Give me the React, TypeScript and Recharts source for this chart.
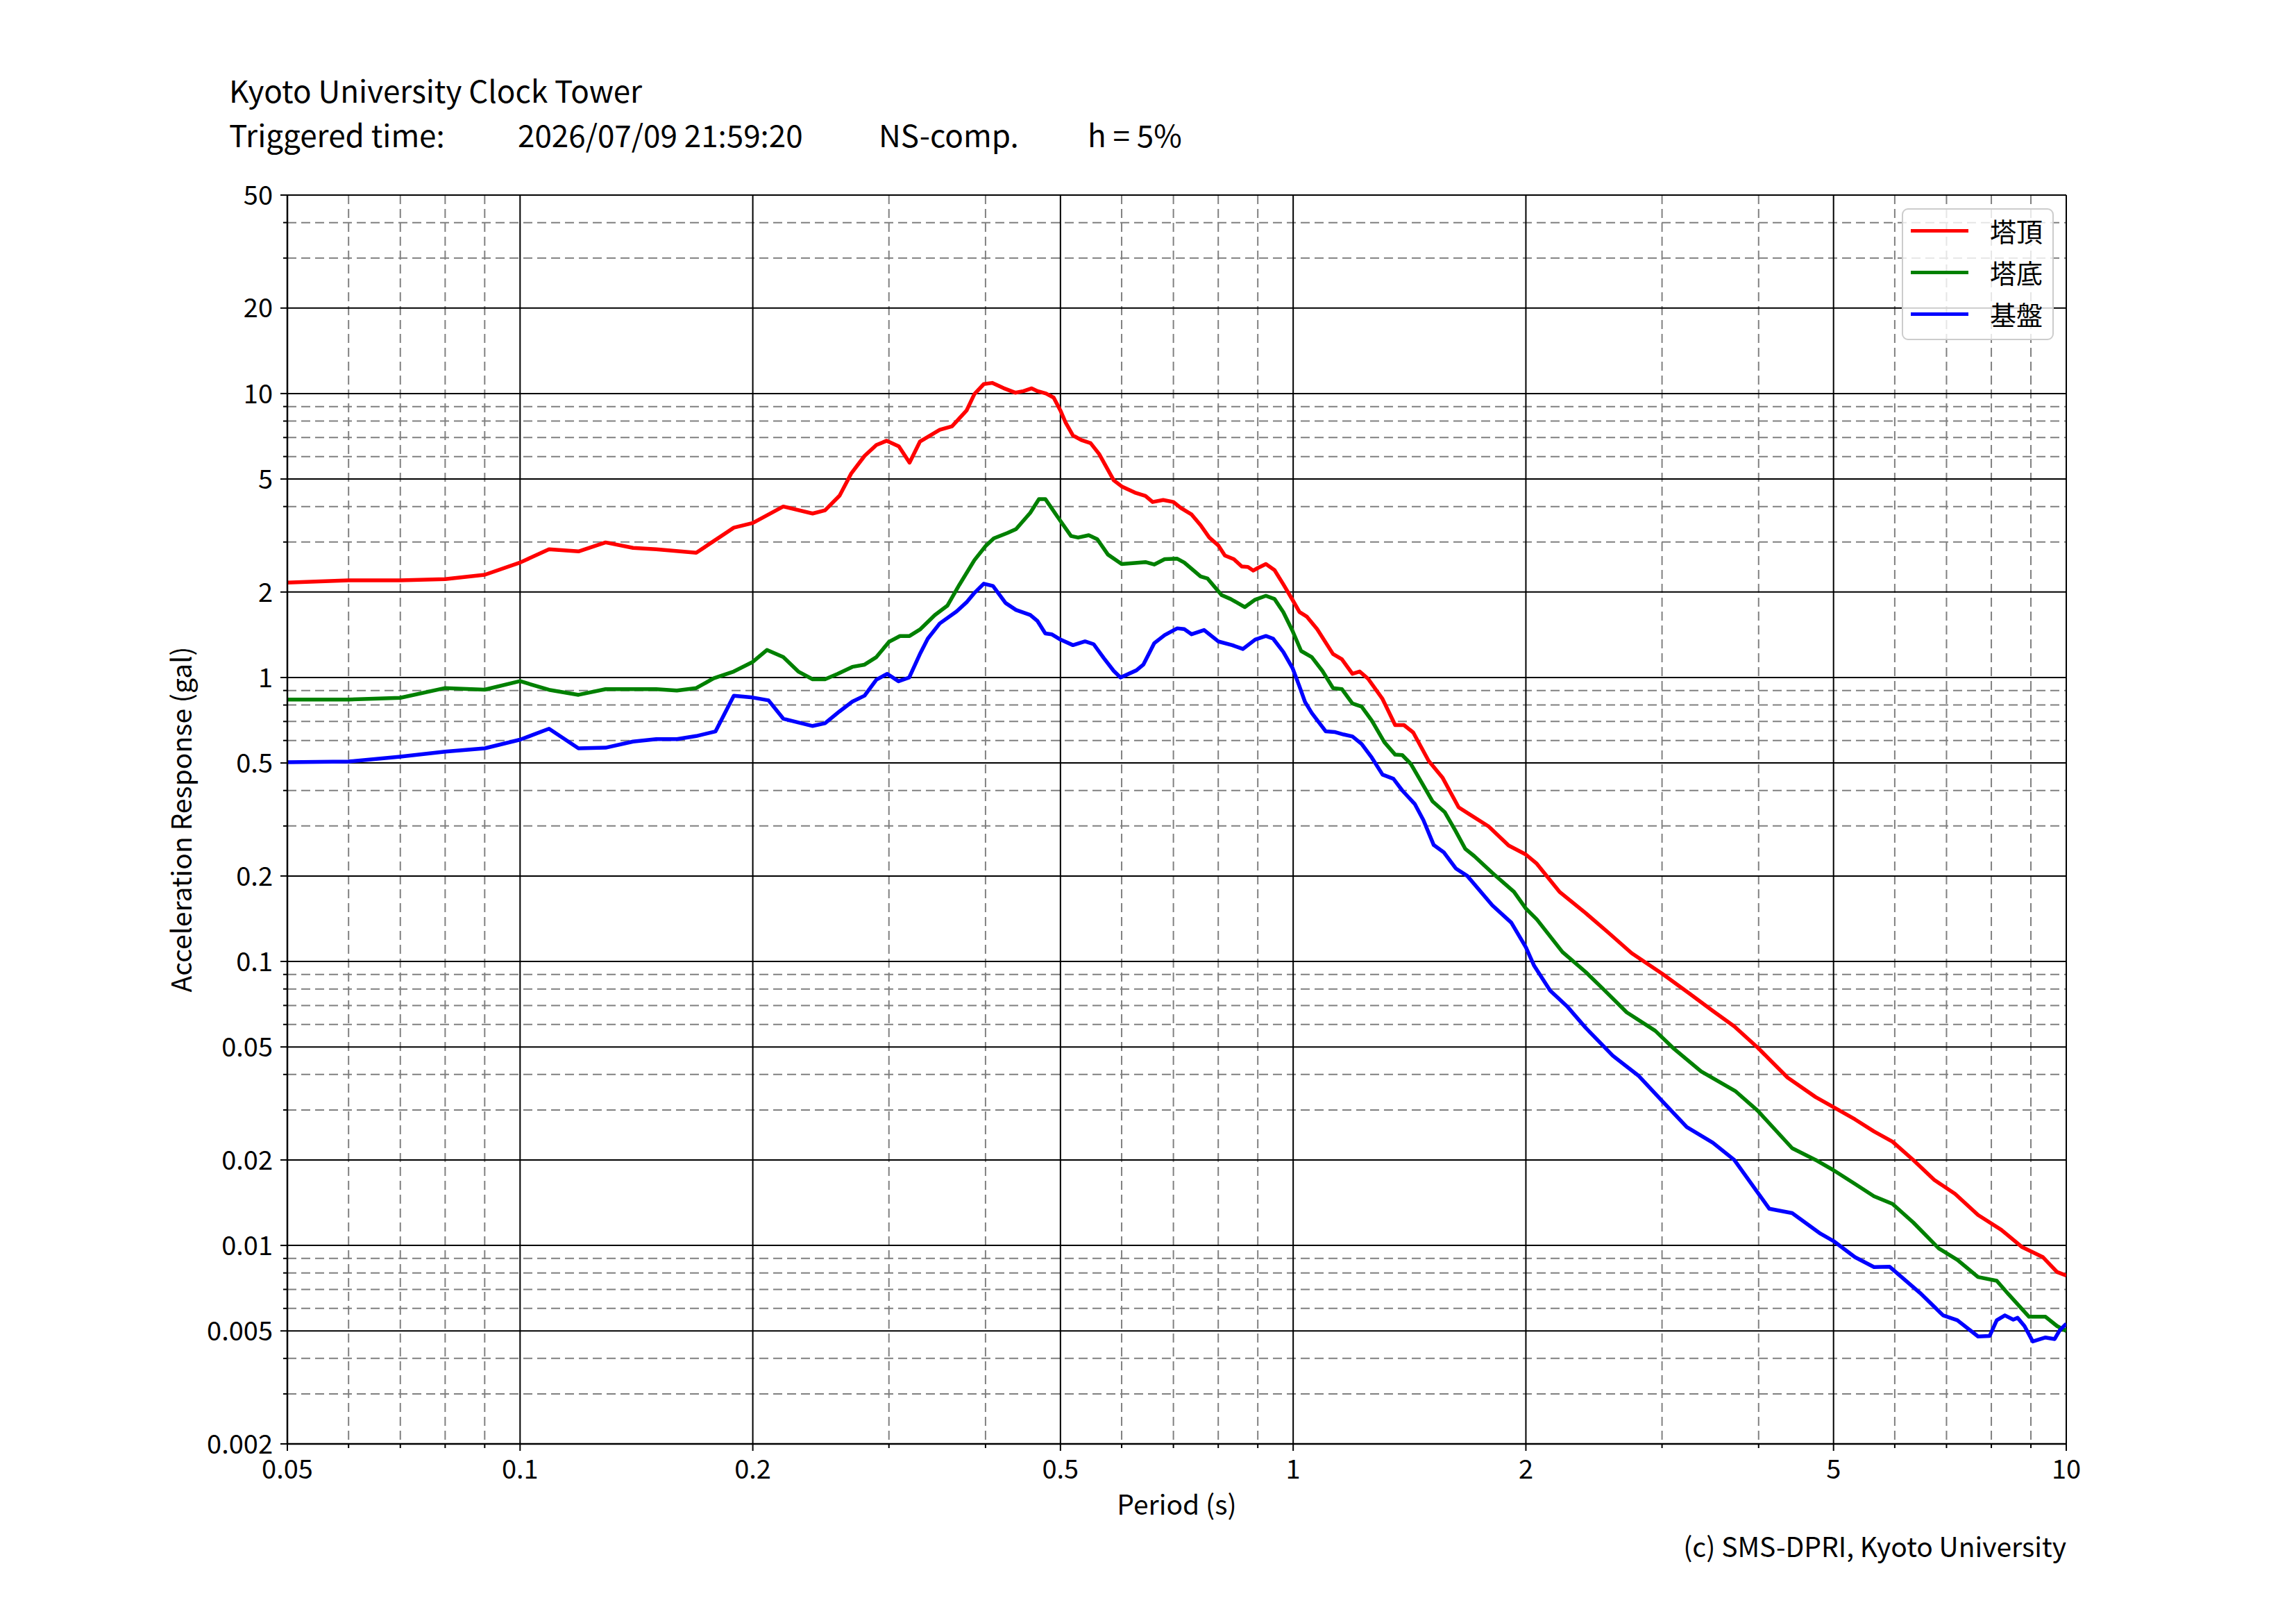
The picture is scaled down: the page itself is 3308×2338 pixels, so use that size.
import { LineChart, Line, XAxis, YAxis, CartesianGrid, Legend, Label } from "recharts";

const W = 3308;
const H = 2338;
const FONT = '"Noto Sans CJK JP", "Noto Sans", sans-serif';

// axis ticks
const xMajor = [0.05, 0.1, 0.2, 0.5, 1, 2, 5, 10];
const xMinor = [0.06, 0.07, 0.08, 0.09, 0.3, 0.4, 0.6, 0.7, 0.8, 0.9, 3, 4, 6, 7, 8, 9];
const yMajor = [0.002, 0.005, 0.01, 0.02, 0.05, 0.1, 0.2, 0.5, 1, 2, 5, 10, 20, 50];
const yMinor = [
  0.003, 0.004, 0.006, 0.007, 0.008, 0.009, 0.03, 0.04, 0.06, 0.07, 0.08, 0.09,
  0.3, 0.4, 0.6, 0.7, 0.8, 0.9, 3, 4, 6, 7, 8, 9, 30, 40,
];

// 塔頂 (tower top)
const topPeriods = [
  0.05, 0.06, 0.07, 0.08, 0.09, 0.1, 0.109, 0.119, 0.129, 0.14, 0.15, 0.169, 0.189, 0.2,
  0.219, 0.239, 0.248, 0.259, 0.268, 0.279, 0.289, 0.298, 0.309, 0.319, 0.329, 0.349,
  0.362, 0.378, 0.387, 0.398, 0.408, 0.422, 0.437, 0.448, 0.459, 0.467, 0.479, 0.49, 0.5,
  0.508, 0.519, 0.532, 0.547, 0.561, 0.586, 0.6, 0.624, 0.644, 0.658, 0.679, 0.7, 0.716,
  0.739, 0.759, 0.779, 0.8, 0.816, 0.838, 0.858, 0.874, 0.888, 0.9, 0.922, 0.946, 0.971,
  1.0, 1.019, 1.041, 1.074, 1.126, 1.156, 1.193, 1.219, 1.25, 1.305, 1.355, 1.391, 1.43,
  1.497, 1.561, 1.637, 1.69, 1.79, 1.9, 2.0, 2.066, 2.21, 2.39, 2.56, 2.74, 3.0, 3.26,
  3.49, 3.72, 3.99, 4.36, 4.74, 5.0, 5.33, 5.64, 5.96, 6.34, 6.75, 7.18, 7.69, 8.24, 8.77,
  9.33, 9.73, 10,
];
const topValues = [
  2.16, 2.2, 2.2, 2.22, 2.3, 2.54, 2.83, 2.78, 2.99, 2.86, 2.83, 2.75, 3.37, 3.5,
  4.0, 3.78, 3.88, 4.37, 5.22, 6.03, 6.59, 6.82, 6.52, 5.71, 6.77, 7.45,
  7.67, 8.71, 9.96, 10.8, 10.9, 10.45, 10.07, 10.2, 10.43, 10.2, 10.0, 9.68, 8.71,
  7.88, 7.12, 6.86, 6.69, 6.13, 4.95, 4.71, 4.48, 4.36, 4.15, 4.22, 4.15, 3.95,
  3.75, 3.44, 3.11, 2.92, 2.69, 2.61, 2.46, 2.45, 2.38, 2.43, 2.51, 2.39, 2.13,
  1.86, 1.7, 1.64, 1.48, 1.21, 1.16, 1.03, 1.05, 0.99, 0.84, 0.68, 0.68, 0.64,
  0.509, 0.443, 0.349, 0.33, 0.299, 0.256, 0.238, 0.221, 0.176, 0.148, 0.126, 0.107, 0.0906, 0.0769,
  0.067, 0.0591, 0.0497, 0.039, 0.0333, 0.0307, 0.0278, 0.0252, 0.0232, 0.02, 0.017, 0.0152, 0.0128, 0.01135, 0.00986,
  0.00909, 0.00806, 0.00783,
];

// 塔底 (tower base)
const basePeriods = [
  0.05, 0.06, 0.07, 0.08, 0.09, 0.1, 0.109, 0.119, 0.129, 0.15, 0.1595, 0.169, 0.178, 0.189,
  0.2, 0.2086, 0.219, 0.229, 0.239, 0.248, 0.2575, 0.269, 0.279, 0.289, 0.3, 0.31, 0.319,
  0.3295, 0.344, 0.357, 0.37, 0.387, 0.4, 0.41, 0.427, 0.438, 0.457, 0.469, 0.478, 0.495,
  0.516, 0.527, 0.544, 0.558, 0.576, 0.6, 0.624, 0.644, 0.661, 0.682, 0.708, 0.723, 0.759,
  0.775, 0.808, 0.83, 0.866, 0.893, 0.922, 0.946, 0.971, 0.998, 1.024, 1.057, 1.091, 1.126,
  1.156, 1.193, 1.226, 1.264, 1.312, 1.355, 1.384, 1.42, 1.466, 1.515, 1.57, 1.62, 1.67,
  1.715, 1.81, 1.93, 2.0, 2.066, 2.23, 2.39, 2.52, 2.7, 2.94, 3.1, 3.37, 3.73, 3.99, 4.42,
  4.74, 5.0, 5.33, 5.64, 5.96, 6.34, 6.84, 7.23, 7.69, 8.13, 8.42, 8.95, 9.4, 9.73, 10,
];
const baseValues = [
  0.836, 0.836, 0.848, 0.918, 0.906, 0.971, 0.905, 0.869, 0.91, 0.91, 0.9, 0.918, 0.993, 1.05,
  1.135, 1.25, 1.18, 1.05, 0.986, 0.986, 1.03, 1.09, 1.11, 1.18, 1.335, 1.4, 1.4,
  1.48, 1.66, 1.79, 2.12, 2.59, 2.9, 3.09, 3.23, 3.33, 3.8, 4.25, 4.25, 3.7,
  3.15, 3.11, 3.17, 3.07, 2.71, 2.51, 2.53, 2.55, 2.5, 2.61, 2.62, 2.54, 2.27,
  2.23, 1.95, 1.89, 1.77, 1.88, 1.94, 1.89, 1.7, 1.46, 1.24, 1.18, 1.055, 0.918,
  0.91, 0.81, 0.79, 0.705, 0.592, 0.535, 0.533, 0.496, 0.427, 0.366, 0.336, 0.29, 0.249,
  0.235, 0.205, 0.176, 0.1536, 0.1407, 0.108, 0.0918, 0.0798, 0.0662, 0.057, 0.0496, 0.041, 0.035, 0.0298, 0.022,
  0.02, 0.0184, 0.01646, 0.0149, 0.014, 0.01205, 0.00976, 0.0089, 0.00774, 0.00751, 0.00673, 0.00561, 0.00561, 0.0052, 0.005,
];

// 基盤 (bedrock)
const rockPeriods = [
  0.05, 0.06, 0.07, 0.08, 0.09, 0.1, 0.109, 0.119, 0.129, 0.14, 0.15, 0.1595, 0.169, 0.179,
  0.189, 0.2, 0.2096, 0.219, 0.239, 0.248, 0.259, 0.269, 0.279, 0.289, 0.2985, 0.3087,
  0.3187, 0.3295, 0.3368, 0.349, 0.367, 0.378, 0.3866, 0.398, 0.409, 0.4246, 0.438, 0.457,
  0.467, 0.478, 0.487, 0.5, 0.519, 0.538, 0.552, 0.569, 0.586, 0.598, 0.627, 0.64, 0.661,
  0.682, 0.708, 0.723, 0.739, 0.767, 0.8, 0.834, 0.861, 0.893, 0.922, 0.942, 0.971, 0.998,
  1.019, 1.036, 1.057, 1.102, 1.131, 1.162, 1.193, 1.226, 1.264, 1.305, 1.348, 1.384,
  1.437, 1.474, 1.52, 1.567, 1.623, 1.68, 1.81, 1.915, 2.0, 2.05, 2.15, 2.26, 2.39, 2.59,
  2.8, 3.0, 3.23, 3.49, 3.72, 3.99, 4.13, 4.42, 4.81, 5.0, 5.33, 5.64, 5.91, 6.47, 6.93,
  7.23, 7.69, 7.96, 8.13, 8.33, 8.54, 8.65, 8.83, 9.05, 9.4, 9.66, 9.81, 10,
];
const rockValues = [
  0.503, 0.506, 0.526, 0.548, 0.563, 0.604, 0.66, 0.563, 0.566, 0.595, 0.607, 0.607, 0.622, 0.646,
  0.863, 0.85, 0.831, 0.716, 0.675, 0.69, 0.76, 0.822, 0.863, 0.982, 1.03, 0.97,
  1.0, 1.22, 1.37, 1.55, 1.71, 1.84, 1.98, 2.14, 2.1, 1.83, 1.73, 1.66,
  1.58, 1.43, 1.42, 1.36, 1.3, 1.34, 1.31, 1.17, 1.055, 1.0, 1.06, 1.11, 1.32,
  1.41, 1.49, 1.48, 1.42, 1.47, 1.34, 1.3, 1.26, 1.36, 1.4, 1.37, 1.23, 1.08,
  0.93, 0.82, 0.75, 0.646, 0.643, 0.63, 0.62, 0.584, 0.522, 0.455, 0.44, 0.4,
  0.358, 0.3145, 0.257, 0.242, 0.2127, 0.2, 0.1575, 0.137, 0.1122, 0.0965, 0.079, 0.0696, 0.0584, 0.0466,
  0.0395, 0.0323, 0.0261, 0.023, 0.02, 0.01534, 0.01346, 0.013, 0.011, 0.01036, 0.00909, 0.00839, 0.00841, 0.0068, 0.00567,
  0.00545, 0.00478, 0.0048, 0.00545, 0.00567, 0.00548, 0.00556, 0.0052, 0.00459, 0.00474, 0.00468, 0.00503, 0.0053,
];

const seriesNames = ["塔頂", "塔底", "基盤"];
const seriesColors = ["#ff0000", "#008000", "#0000ff"];

const toRows = (t: number[], a: number[]) => t.map((p, i) => ({ t: p, a: a[i] }));
const series = [
  toRows(topPeriods, topValues),
  toRows(basePeriods, baseValues),
  toRows(rockPeriods, rockValues),
];

const XTick = ({ x, y, payload }: any) => {
  const major = xMajor.includes(payload.value);
  return (
    <g>
      <line x1={x} x2={x} y1={y} y2={y + (major ? 10 : 6)} stroke="#000" strokeWidth={2} />
      {major && (
        <text x={x} y={y + 23} dy="0.71em" textAnchor="middle" fontSize={38} fontFamily={FONT} fill="#000">
          {String(payload.value)}
        </text>
      )}
    </g>
  );
};

const YTick = ({ x, y, payload }: any) => {
  const major = yMajor.includes(payload.value);
  return (
    <g>
      <line x1={x} x2={x - (major ? 10 : 6)} y1={y} y2={y} stroke="#000" strokeWidth={2} />
      {major && (
        <text x={x - 21} y={y} dy="0.36em" textAnchor="end" fontSize={38} fontFamily={FONT} fill="#000">
          {String(payload.value)}
        </text>
      )}
    </g>
  );
};

const renderLegend = ({ payload }: any) => {
  const items = [...(payload || [])].sort(
    (a: any, b: any) => seriesNames.indexOf(a.value) - seriesNames.indexOf(b.value)
  );
  return (
    <div
      style={{
        width: 219,
        height: 190,
        boxSizing: "border-box",
        border: "2px solid #cccccc",
        borderRadius: 9,
        background: "rgba(255,255,255,0.8)",
        paddingLeft: 11,
      }}
    >
      {items.map((p: any) => (
        <div key={p.value} style={{ display: "flex", alignItems: "center", height: 60 }}>
          <span style={{ display: "inline-block", width: 83, height: 5, background: p.color }} />
          <span style={{ marginLeft: 31, fontSize: 38, fontFamily: FONT, color: "#000", lineHeight: 1 }}>
            {p.value}
          </span>
        </div>
      ))}
    </div>
  );
};

export default function App() {
  return (
    <div style={{ position: "absolute", left: 0, top: 0, width: W, height: H, background: "#fff" }}>
      <LineChart width={W} height={H} margin={{ top: 281, right: 331, bottom: 178, left: 294 }}>
        <CartesianGrid
          horizontalValues={yMinor}
          verticalValues={xMinor}
          stroke="#808080"
          strokeWidth={2}
          strokeDasharray="13 7"
        />
        <CartesianGrid horizontalValues={yMajor} verticalValues={xMajor} stroke="#000" strokeWidth={2} />
        <XAxis
          type="number"
          dataKey="t"
          scale="log"
          domain={[0.05, 10]}
          ticks={[...xMajor, ...xMinor]}
          interval={0}
          allowDataOverflow
          height={80}
          tickSize={0}
          tickMargin={0}
          tickLine={false}
          tick={<XTick />}
          axisLine={{ stroke: "#000", strokeWidth: 2.5 }}
        >
          <Label
            content={({ viewBox }: any) => (
              <text
                x={viewBox.x + viewBox.width / 2}
                y={viewBox.y + 102}
                textAnchor="middle"
                fontSize={39}
                fontFamily={FONT}
                fill="#000"
              >
                Period (s)
              </text>
            )}
          />
        </XAxis>
        <YAxis
          type="number"
          dataKey="a"
          scale="log"
          domain={[0.002, 50]}
          ticks={[...yMajor, ...yMinor]}
          interval={0}
          allowDataOverflow
          width={120}
          tickSize={0}
          tickMargin={0}
          tickLine={false}
          tick={<YTick />}
          axisLine={{ stroke: "#000", strokeWidth: 2.5 }}
        >
          <Label
            content={({ viewBox }: any) => {
              const bx = viewBox.x - 18;
              const cy = viewBox.y + viewBox.height / 2;
              return (
                <text
                  x={bx}
                  y={cy}
                  transform={`rotate(-90, ${bx}, ${cy})`}
                  textAnchor="middle"
                  fontSize={39}
                  fontFamily={FONT}
                  fill="#000"
                >
                  Acceleration Response (gal)
                </text>
              );
            }}
          />
        </YAxis>
        <Legend
          layout="vertical"
          align="center"
          verticalAlign="middle"
          content={renderLegend}
          wrapperStyle={{ left: 2740, top: 300, width: "auto", height: "auto" }}
        />
        {series.map((rows, i) => (
          <Line
            key={seriesNames[i]}
            data={rows}
            dataKey="a"
            name={seriesNames[i]}
            type="linear"
            stroke={seriesColors[i]}
            strokeWidth={5.5}
            strokeLinejoin="round"
            dot={false}
            activeDot={false}
            isAnimationActive={false}
          />
        ))}
      </LineChart>
      <svg
        width={W}
        height={H}
        style={{ position: "absolute", left: 0, top: 0, pointerEvents: "none" }}
        fontFamily={FONT}
      >
        {/* header lines spaced so their text boxes do not collide */}
        <text x={330} y={148} fontSize={44} fill="#000">
          Kyoto University Clock Tower
        </text>
        <text y={212} fontSize={44} fill="#000">
          <tspan x={330}>Triggered time:</tspan>
          <tspan x={746}>2026/07/09 21:59:20</tspan>
          <tspan x={1266}>NS-comp.</tspan>
          <tspan x={1567}>h = 5%</tspan>
        </text>
        <text x={2977} y={2243} fontSize={39} textAnchor="end" fill="#000">
          (c) SMS-DPRI, Kyoto University
        </text>
      </svg>
    </div>
  );
}
